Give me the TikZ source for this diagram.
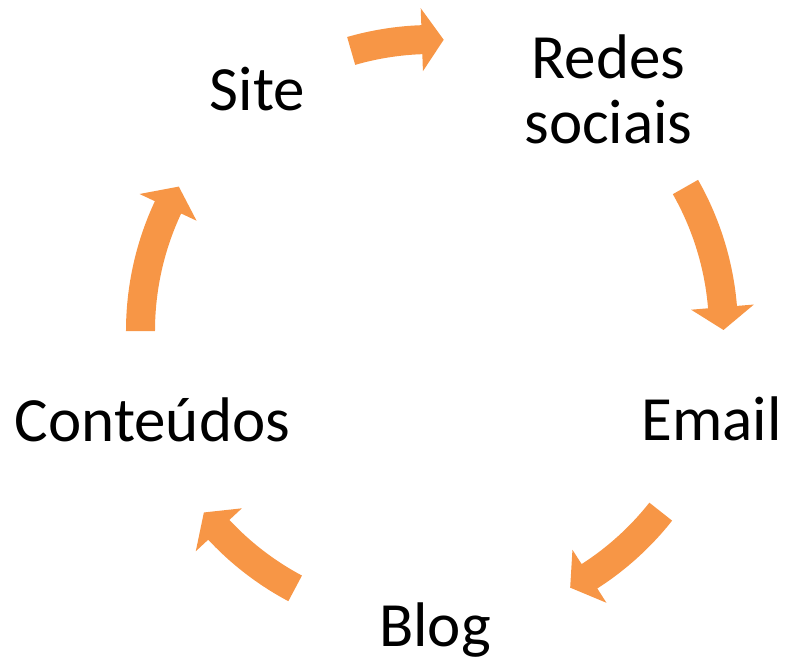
\documentclass[tikz,border=0pt]{standalone}
\usepackage{fontspec}
\setmainfont{Carlito}
\definecolor{arrowOrange}{RGB}{247,150,70}
% curved block arrow: tail angle, head-base angle, tip angle (clockwise)
\newcommand\cycarrow[3]{%
  \fill[cycfill] (#1:306) arc[start angle=#1, end angle=#2, radius=306]
    -- (#2:323) -- (#3:291.5) -- (#2:260) -- (#2:277)
    arc[start angle=#2, end angle=#1, radius=277] -- cycle;}
\begin{document}
\begin{tikzpicture}[x=0.75pt,y=0.75pt,
  lbl/.style={anchor=base, inner sep=0pt, font=\fontsize{47.25}{48.75}\selectfont},
  cycfill/.style={fill=arrowOrange, draw=none}]
\useasboundingbox (-432,-326) rectangle (354,331);
\node[lbl] (site) at (-174.5,220.3) {Site};
\node[lbl] (redes) at (176.5,252.7) {\begin{tabular}[t]{@{}c@{}}Redes\\sociais\end{tabular}};
\node[lbl] (email) at (279.7,-109) {Email};
\node[lbl] (blog) at (3,-315.7) {Blog};
\node[lbl] (conteudos) at (-279.5,-110.7) {Conteúdos};
\cycarrow{106.1}{92}{87.7}
\cycarrow{29.6}{4.7}{0.2}
\cycarrow{-38.3}{-57.3}{-61.7}
\cycarrow{-118}{-137}{-141.5}
\cycarrow{180}{154.9}{150.3}
\end{tikzpicture}
\end{document}
